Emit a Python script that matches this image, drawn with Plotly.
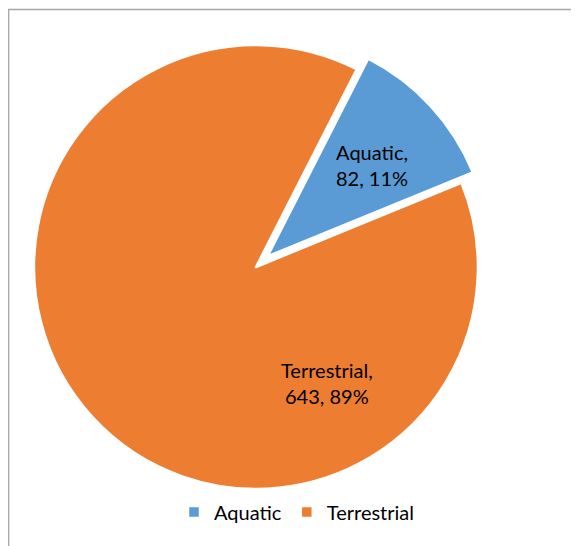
import plotly.graph_objects as go

categories = ["Aquatic", "Terrestrial"]
values = [82, 643]
colors = ["#5B9BD5", "#ED7D31"]
pulls = [0.07, 0]

W, H = 579, 546
OFF = 8  # page body margin offset
FONT = "Lato"
total = sum(values)
pcts = [round(v * 100 / total) for v in values]

fig = go.Figure(go.Pie(
    labels=categories,
    values=values,
    sort=False,
    direction="clockwise",
    rotation=27,
    pull=pulls,
    marker=dict(colors=colors, line=dict(color="white", width=2.5)),
    textinfo="none",
    hoverinfo="label+value+percent",
    domain=dict(x=[0.0, 0.8566], y=[0.0906, 0.9606]),
))

# data label positions (screen pixel centers)
label_pos = [(372, 165), (327, 383)]
for cat, val, pct, (px, py) in zip(categories, values, pcts, label_pos):
    fig.add_annotation(
        x=(px - OFF) / W, y=1 - (py - OFF) / H, xref="paper", yref="paper",
        text=f"{cat},<br>{val}, {pct}%", showarrow=False,
        font=dict(family=FONT, size=20, color="black"),
        xanchor="center", yanchor="middle", align="center",
    )

# chart area border
fig.add_shape(type="rect", xref="paper", yref="paper",
              x0=0.7 / W, y0=-0.1, x1=1.1, y1=1 - 1.5 / H,
              line=dict(color="#A6A6A6", width=1.3), fillcolor="rgba(0,0,0,0)",
              layer="below")

fig.update_layout(
    width=W, height=H,
    margin=dict(l=0, r=0, t=0, b=0),
    paper_bgcolor="white", plot_bgcolor="white",
    showlegend=True,
    legend=dict(orientation="h", x=(297 - OFF) / W, xanchor="center",
                y=1 - (512 - OFF) / H, yanchor="middle",
                font=dict(family=FONT, size=20, color="black"),
                itemwidth=30, traceorder="normal"),
    font=dict(family=FONT),
)

fig.write_html("out.html")
